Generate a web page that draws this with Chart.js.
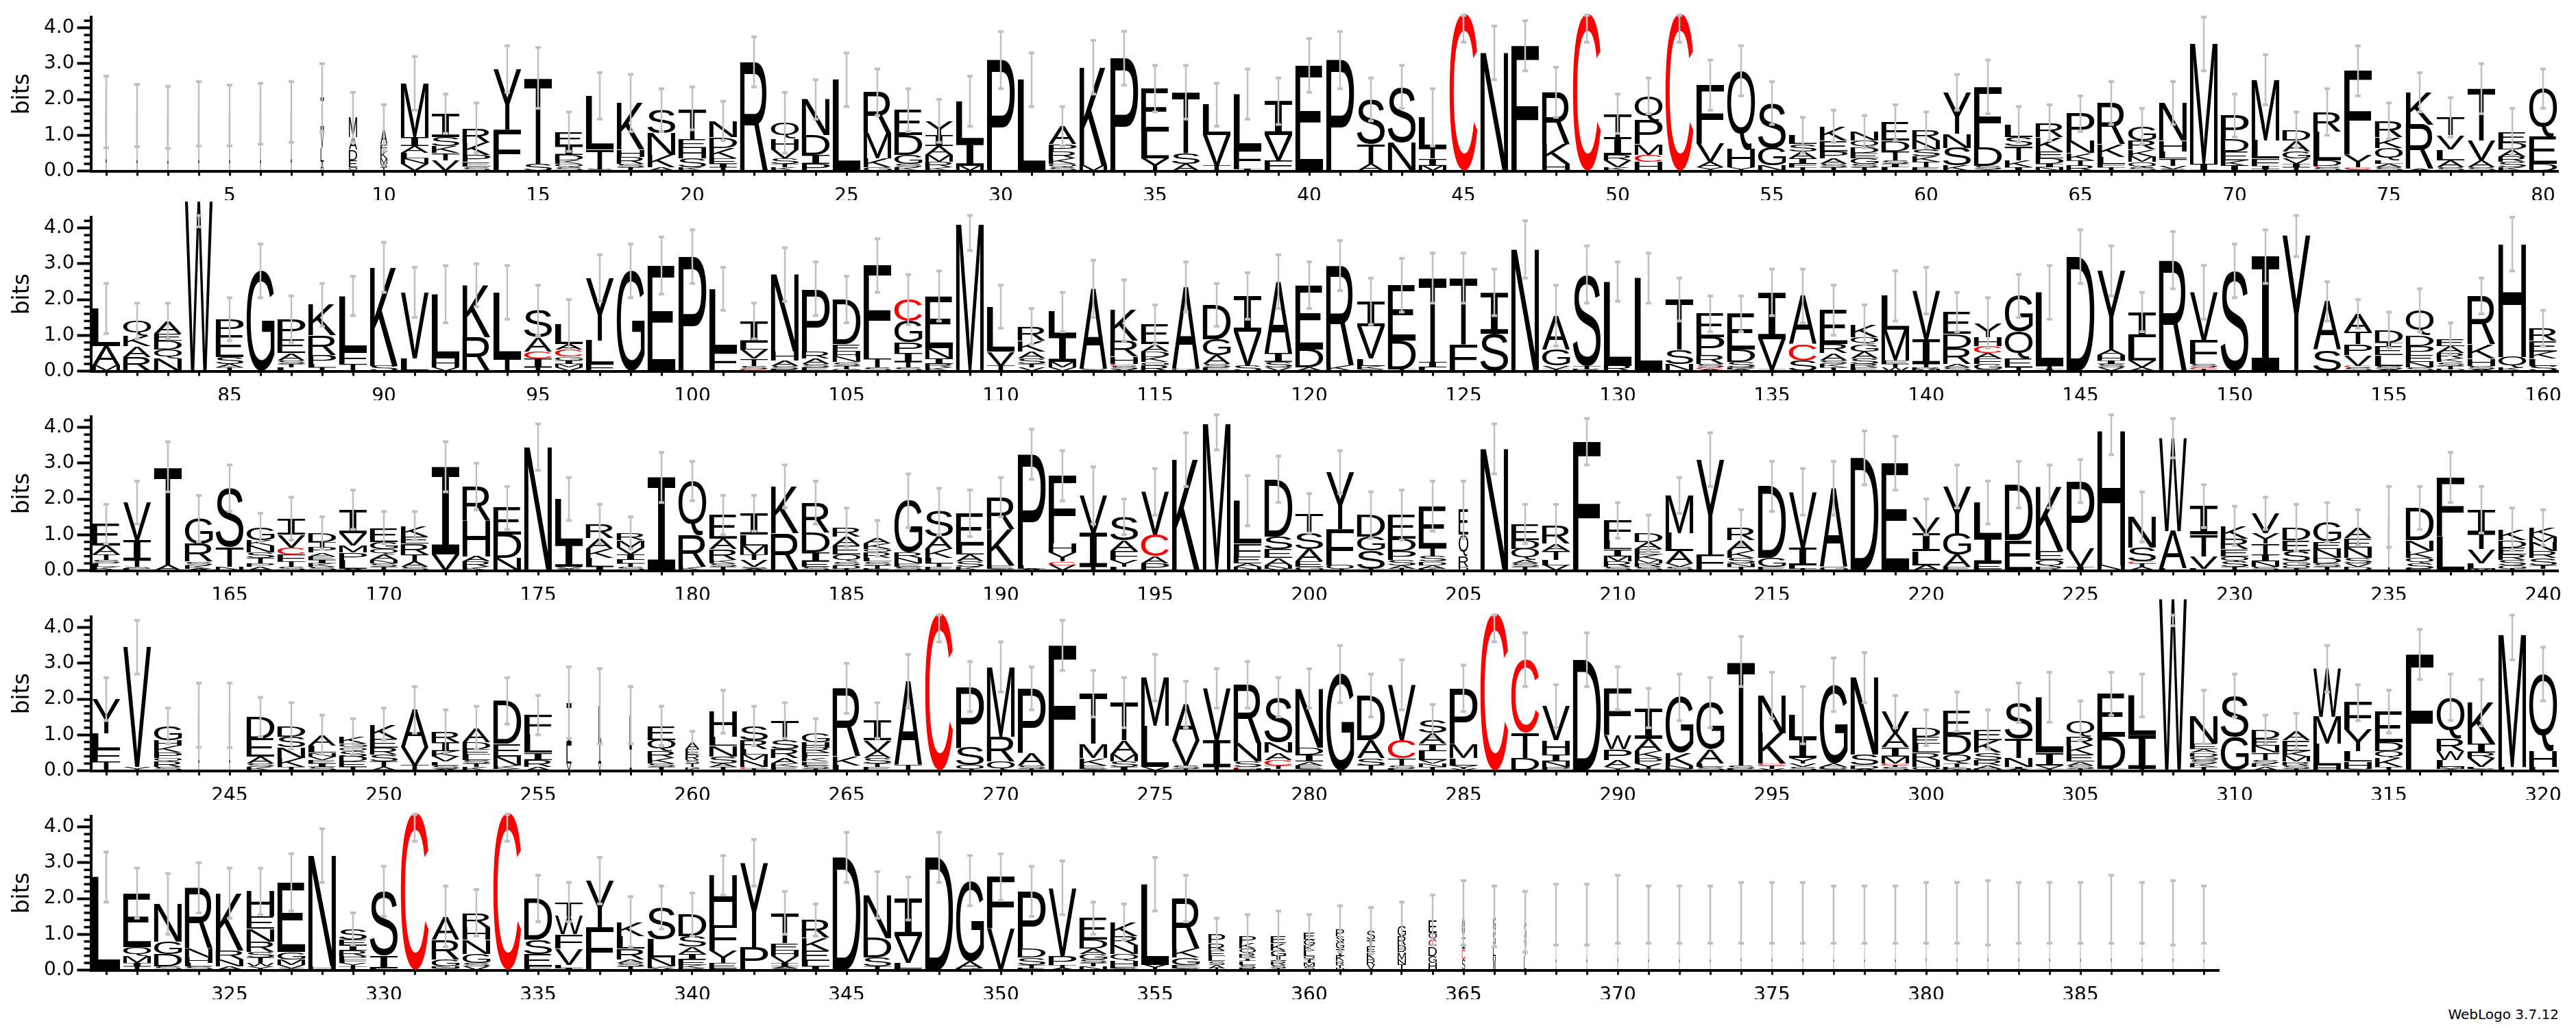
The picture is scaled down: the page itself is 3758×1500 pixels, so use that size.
<!DOCTYPE html>
<html><head><meta charset="utf-8">
<script src="https://cdn.jsdelivr.net/npm/chart.js@4.4.1/dist/chart.umd.min.js"></script>
<style>
html,body{margin:0;padding:0;background:#fff;width:3758px;height:1500px;overflow:hidden;position:relative}
canvas.row{position:absolute;left:0}
#credit{position:absolute;right:25px;top:1470px;font:20px "DejaVu Sans",sans-serif;line-height:20px;color:#000;white-space:nowrap}
</style></head><body>
<canvas id="r0" class="row" width="3758" height="392"></canvas>
<canvas id="r1" class="row" width="3758" height="392"></canvas>
<canvas id="r2" class="row" width="3758" height="392"></canvas>
<canvas id="r3" class="row" width="3758" height="392"></canvas>
<canvas id="r4" class="row" width="3758" height="392"></canvas>
<div id="credit">WebLogo 3.7.12</div>
<script>
// ---- DATA ----
// first position and number of positions per logo row
const rowStarts = [1, 81, 161, 241, 321];
const rowLengths = [80, 80, 80, 80, 69];
const yTickValues = [0, 1, 2, 3, 4];

// letter stacks per position, listed top -> bottom, "<letter><bits>"
const stacks1 = [
"L.85 A.8","L.8 A.75","L.8 A.7","L.85 A.75","L.8 A.75","L.85 A.75","L.85 A.8","I.9 V.5 L.4 A.25","M.55 A.35 D.3 E.2 Q.1","A.45 E.2 K.2 M.15 S.1 T.1",
"M1.5 I.25 A.2 L.15 N.15 V.2","I.65 S.25 K.2 T.2 V.3","R.4 K.35 P.2 E.13 S.12","Y1.7 F1.15","T2.4 S.2","E.4 I.25 D.15 K.1 Q.1 S.1","L1.5 T.55 S.05","K1.3 H.2 R.2 S.1 T.1","S.65 N.6 K.35 A.1","T.85 E.25 H.3 S.25 K.1",
"N.45 D.3 K.3 E.15 I.1 T.1","R3.05","Q.45 H.3 V.25 S.15 T.1 K.1","N1.0 D.55 I.25 P.2","L2.55","R1.15 M.7 K.25 G.1","E.7 D.55 G.25 S.1 K.1","Y.4 I.3 A.25 M.2 R.15 K.1","L1.15 I.65 M.15","P3.1",
"L2.55","A.5 P.2 R.2 K.15 Q.1 S.1","K2.75 M.15","P3.15","E1.2 L.75 Y.35","T1.7 S.3 A.2","L.85 V.85 T.15","L1.55 F.55 I.05","I.95 V.7 F.3","E2.95",
"P3.1","S1.25 T.55 A.2","S1.55 N.8","L.85 T.3 I.2 M.15","C4.4","N3.3","F3.5","R1.45 K.55 H.2","C4.4","T.65 I.5 R.15 V.2 K.1",
"Q.7 P.65 M.3 C.2 H.25","C4.4","F1.65 V.5 A.15 Y.1","Q2.2 H.5 Y.1","S1.25 G.5 N.15","L.25 S.2 A.2 I.15 F.1 T.1","K.4 E.3 P.2 A.15 S.1 T.1","N.25 Q.2 D.15 E.15 G.15 S.1 T.1","E.5 D.3 T.25 S.1 I.1 L.1","R.3 N.25 S.2 K.15 T.15 E.1",
"Y1.15 N.4 S.5 K.15","F1.7 D.5 S.1 Y.05","L.35 S.25 T.4 K.2 I.1","R.4 K.4 E.2 D.15 I.1 N.1","P.75 N.35 K.2 T.15 R.15","R1.15 K.35 L.2 F.1 T.1","G.4 R.25 K.2 M.15 Q.15 S.1","N1.05 H.3 L.2 T.2 V.1 S.05","M3.35 I.2","P.65 D.35 E.25 K.15 I.15",
"M1.7 L.5 F.2 I.1 T.05","D.3 A.3 G.2 V.15 I.1 T.1","R.55 L.8 D.15 C.05 S.1","F2.35 Y.35 C.05 S.05","R.45 K.3 Q.35 L.1 A.1 S.1","K.9 R1.25 A.05","T.5 V.4 L.3 A.2 S.1","T1.45 V.55 A.2 S.1","E.3 D.2 A.2 R.15 S.15 K.1","Q1.35 E.75 D.2"
];
const stacks2 = [
"L1.05 A.55 M.15","Q.4 K.3 A.3 R.4","A.35 E.2 D.25 Q.25 N.35","W4.75","P.45 E.6 S.2 A.1 T.1","G2.8","P.55 E.4 A.2 S.1 T.1 L.1","K.85 R.55 P.25 L.1 T.1","L1.55 F.35 T.2","K2.75 S.15",
"V1.85 L.35","L1.8 H.25 V.1","K1.45 R.95","L1.85 T.35","S.75 A.4 C.2 I.25 T.1","L.55 A.15 C.2 G.1 I.1 M.1 V.1","Y1.75 L.65 F.2","G2.8","E2.95","P3.2",
"L1.75 F.55","I.6 L.2 V.25 T.2 S.1 C.05","N2.15 H.25 A.15 S.1 E.05","P1.75 R.2 A.15 S.1 E.1","D1.25 E.2 H.15 N.15 S.1 T.1 G.05","F2.6 T.25 S.1","C.6 G.6 P.3 I.25 T.15 S.1","E1.45 N.3 I.15 R.1 K.1","M4.1","L1.25 V.4 T.15",
"R.4 K.3 A.2 S.15 T.1 V.1","L.65 I.75 M.15 V.1","A2.25 S.05","K.85 R.45 H.2 C.05 S.1 V.05","E.55 A.2 D.15 K.15 Q.1 R.15","A2.3 G.05","D.95 G.45 A.25 S.1 E.1","I1.0 V.95 S.15","A2.0 I.25 S.15 V.1","E1.8 D.5 A.1",
"R2.8 K.15","I.7 V.9 L.2 K.1 S.05","E1.55 D.8 T.05","T2.35 I.15 L.1","T1.85 F.75","I1.15 S1.05","N3.4","A.95 G.45 V.1 T.05","S2.55 T.1 R.05","L2.35 R.15",
"L2.6","T1.4 S.4 N.2","E.65 P.5 R.25 S.1 C.05 A.05","E1.0 D.35 S.15 P.05 A.05","I1.3 V.85 T.05","A1.35 C.45 S.3","E.95 R.25 A.2 S.1 K.1 T.1","K.35 Q.2 G.2 A.2 S.15 R.1 E.1","L.95 M.85 E.1 T.1 W.1","V1.35 I.7 T.1 R.05 M.05",
"E.6 D.4 R.45 A.1 S.1","Y.4 H.25 C.2 A.15 F.15 G.15 S.05","G1.0 Q.75 E.25 T.1","L2.05 T.1 I.05","D3.2","Y2.2 A.15 H.15 I.1 S.1 V.1","I.7 L.65 V.2 A.1","R3.1","V1.35 F.65 S.1 C.05 T.05","S2.8",
"I3.2","Y3.8","A1.35 S.6","A.5 T.35 P.3 V.3 C.05 S.1","D.35 T.1 E.25 L.3 S.1 A.05","Q.7 D.3 P.25 E.2 N.15 S.1","E.2 A.2 R.15 K.1 S.1 T.1 D.05","R1.35 K.4 H.2 S.1 A.05","H3.15 Q.3 K.1","R.35 E.3 K.2 L.2 S.15"
];
const stacks3 = [
"E.6 A.25 T.15 S.1 L.1 K.1","V1.05 I.55 T.2 S.05 L.05","T2.75 A.15","G.7 R.5 S.1 K.1 A.05","S1.65 T.55 N.1","G.35 K.15 N.2 S.15 T.15 P.1 A.1","I.45 V.35 C.2 F.2 T.15 S.1","D.25 T.15 P.15 A.1 E.1 I.1 K.1 S.1","I.65 V.35 M.2 P.2 L.25 A.05","E.4 G.2 Q.15 A.15 N.1 S.1 T.1",
"K.3 E.2 R.3 T.2 A.15 S.1","I2.45 V.45","R.95 H1.0 A.15 R.15 K.1","E.75 D.65 N.35","N3.45","L1.25 I.65 V.05 S.05","R.4 A.3 K.25 L.25 I.1","R.2 M.2 V.2 I.15 L.1 T.1 S.1","I2.6","Q1.5 R.9 K.1",
"E.65 A.3 R.3 K.1 S.1 T.1","I.6 L.3 M.25 T.15 V.2 S.05 A.05","K1.3 R1.05","R.85 D.55 I.25 E.15 S.1","R.25 A.25 E.25 Q.2 S.1 D.1 T.05","A.15 K.15 Q.1 R.15 L.1 S.1 T.1 E.05","G1.45 R.15 N.15 E.1 S.1","S.7 A.35 K.25 L.15 T.1 E.1","E.9 L.25 A.2 S.15 K.1","R.9 K1.0 E.1 S.05",
"P3.1 L.1 A.05","F1.9 H.25 Y.25 C.1 V.15","V1.05 I.95 T.1","S.65 A.3 F.25 Y.2 L.1","V1.2 C.6 A.2 P.2","K3.1","M4.1","L1.2 F.35 E.2 A.1 N.1","D1.6 S.35 E.25 A.2 N.1 V.05","T.55 S.45 A.35 E.15 G.1",
"Y1.6 F1.0 Q.15","D.6 G.4 S.5 T.05","E.65 D.35 P.25 S.15 A.1 T.05","E1.15 T.25 S.15 D.1 A.1 K.05","E.7 Q.6 R.3 D.1","N3.4","E.45 D.25 Q.3 A.1 S.1 T.1","R.5 A.2 T.25 L.15 V.15","F3.6","F.55 L.25 I.2 M.15 R.15 S.1",
"D.25 A.2 E.15 K.15 M.1 R.1 S.1","M1.05 L.5 A.35 V.1 S.1","Y2.65 F.45","R.35 A.3 K.2 S.15 N.1 T.1","D2.0 G.25 E.1","V1.55 I.5 L.1 T.05","A2.2 G.1","D3.15","E3.0","V.45 I.5 L.4 A.15",
"Y1.3 G.6 A.35 E.1","L.95 I.75 E.15 F.05","D1.55 E.85","K1.8 E.25 Q.2 R.1","P1.9 V.5 I.1","H3.75 N.15","N.85 S.4 C.05 T.1 A.1","W2.6 A1.05 L.05","I.8 T.6 V.35 L.05","K.35 R.3 E.2 Q.15 S.15 T.1",
"V.55 Y.3 T.3 I.2 N.15 S.1","D.35 E.3 S.3 G.1 Q.1 T.05","G.55 E.2 N.25 D.15 S.1 T.1","A.3 E.25 N.3 S.15 V.1 D.1","L.8 I.7","D.9 N.3 K.2 Q.15 S.15 E.05","F1.65 L.95","I.65 T.45 V.4 L.15 M.05","K.3 D.2 E.2 R.15 S.15 G.1 T.05","K.25 M.15 N.25 R.2 S.2 T.1 Q.05"
];
const stacks4 = [
"Y.95 L.45 F.35 T.25","V3.35 Y.1","G.4 H.15 K.2 P.15 Q.1 R.15 S.1","L.8 A.75","L.8 A.75","D.6 E.5 A.2 S.1 K.1","D.3 S.3 N.3 K.25 T.1","A.3 L.2 N.1 V.1 E.1 I.1 S.1","K.2 G.1 Q.1 S.15 D.15 E.15 T.1","K.4 E.25 R.2 S.2 T.15 A.1",
"A1.05 V.5 T.15","R.3 I.25 K.15 V.15 L.1 S.1 A.05","A.4 D.2 E.15 L.15 S.1 T.1 K.1","D1.2 E.35 N.25 K.1 Y.05","F.55 L.5 I.2 R.2 A.1","I1.2 L.5 V.2","L1.0 I.6 V.2","L.9 I.65","E.4 Q.3 R.2 K.15 S.1 T.1","A.2 E.15 R.15 S.1 T.1 G.05 K.05",
"H.7 L.25 N.3 S.2 A.1 T.1","S.4 R.25 L.15 M.15 N.2 C.05 T.05","T.55 S.25 R.25 A.15 K.1 E.1","G.25 H.15 R.15 F.15 K.1 E.1 S.1 T.05","R1.9 K.25 L.15","I.55 V.3 A.2 S.15 T.1 E.1","A2.35 T.15","C4.4","P1.7 S.5 Q.15","M1.95 R.7 Q.25",
"P1.8 A.35 S.1 T.05","F3.5","T1.4 M.4 K.2 E.1 S.05","T1.05 A.4 M.2 S.15 I.1","M1.35 L1.15 V.1","A1.0 V.7 S.1 T.05","V1.45 I.75 T.1","R1.65 N.5 S.15 C.05 H.05","S1.25 N.3 A.2 C.15 T.1 L.05","N1.65 D.2 I.2 A.1 E.1 S.05",
"G2.7","D1.25 A.5 S.2 T.15","V1.55 C.5 T.2 S.1 L.05","S.35 A.3 I.2 L.25 V.1 N.1 T.1","P1.55 M.4 L.2 Y.1 V.05","C4.4","C2.05 T.7 D.35","V.95 H.4 I.2 N.15 P.1","D3.1","F1.3 W.4 P.3 A.2 Y.1",
"I.85 A.35 K.2 P.15 Y.15 E.05","G1.55 K.35 N.1 E.05","G1.3 A.4 L.1 S.1","T2.9 S.1 L.05","N1.05 K.85 C.05 T.1 V.05","L.65 I.55 Y.15 V.1 S.1","G2.2 A.1 D.05 S.05","N2.15 S.3 D.1 A.05","V.6 A.4 I.25 M.2 C.05 T.05 S.1","D.25 E.2 L.25 R.2 N.2 Q.1",
"E.65 D.55 Q.25 T.1 K.05 N.05","E.3 K.35 S.2 R.15 A.1 D.05","S1.0 T.55 N.25 I.05 A.05","L1.55 I.35 V.1 T.05","Q.45 R.25 K.25 E.2 A.1 S.1 T.05","E1.2 D.9 T.05","L1.1 I.95 T.05","W4.8","N.75 E.15 A.1 D.1 G.1 S.1 K.1 T.1","S1.15 G.95",
"D.25 E.2 N.2 T.2 S.1 K.1 A.1","A.25 E.3 K.15 M.15 R.1 S.1 T.05","W1.35 M.75 L.6 H.15","F.75 Y.6 L.3 H.2 S.05","E.85 D.25 Q.2 K.25 T.1","F3.25","Q1.15 R.35 W.25 L.2 M.05 Y.05","K1.15 I.25 R.15 V.25 L.05 S.05","M3.7 L.1","Q2.15 H.45 L.1"
];
const stacks5 = [
"L2.6","E1.5 Q.25 M.2 I.1 T.1","N1.05 G.35 D.35 S.1","R1.7 N.25 H.15 L.1 S.1","K1.6 R.25 N.2 A.1","H.7 E.35 N.35 R.3 S.15 T.15 W.1 Y.1","E1.95 G.2 M.15 V.1 Y.05","N3.1 H.1","S.3 E.15 I.15 R.15 P.1 F.1 Y.1 T.1","S1.8 I.35 L.05",
"C4.4","A.65 R.55 G.2 N.05 S.05","R.4 H.35 N.4 G.25 S.1 V.1","C4.4","D1.15 S.4 E.35 F.1","T.4 W.5 F.4 V.45 L.1 I.05","Y1.3 F1.2","K.4 L.35 R.3 A.1 S.1 T.1","S.9 L.5 N.25 K.05 V.05","D.6 S.3 A.2 I.15 E.15 K.1 R.05",
"H1.4 F.7 Y.35 E.15 F.05","Y2.35 P.65","T.85 E.2 H.15 V.2 I.1 A.05 S.05","R.5 K.35 E.3 L.15 I.1","D3.15","N1.2 D.55 S.25 T.1","I1.05 V.75 L.15 F.05","D3.15","G2.25 A.2 R.05","F1.45 V1.15",
"P1.6 D.25 S.2 T.1 E.05","V1.9 P.25 T.1 A.05","E.6 D.25 A.15 G.15 S.1 T.1 N.1","K.4 R.25 N.25 Q.2 H.15 E.05 S.05","L2.25 Y.15","R1.4 K.25 G.2 E.1 S.05","P.25 R.2 E.15 L.15 S.1 A.1 T.05","P.2 K.15 Q.15 R.1 I.1 L.1 S.1 E.05","E.2 K.2 G.15 I.15 R.1 S.1 T.05","E.2 G.15 K.15 L.15 Q.1 I.1 M.1 S.1",
"P.2 S.15 G.2 I.2 K.15 R.1 T.1 D.05","S.25 I.2 E.15 K.2 R.15 V.15","G.3 R.25 D.2 M.2 N.15 T.15","E.35 Q.2 C.2 D.25 G.2 H.2","A.4 V.3 I.3 C.3 S.3","G.4 S.4 L.3 M.4","S.5 V.45 L.4","L.8 A.75","L.8 A.75","L.9 A.8",
"L.8 A.75","L.8 A.75","L.8 A.75","L.8 A.8","L.8 A.8","L.8 A.8","L.8 A.75","L.8 A.75","L.8 A.75","L.8 A.8",
"L.8 A.8","L.8 A.8","L.8 A.8","L.8 A.8","L.8 A.8","L.9 A.8","L.8 A.8","L.8 A.8","L.8 A.75"
];

// fraction of non-gap sequences per position (letter column width)
const occ1 = [.05,.05,.05,.05,.05,.05,.05,.12,.3,.25, 1,1,1,1,1,1,1,1,1,1, 1,1,1,1,1,1,1,1,1,1, 1,1,1,1,1,1,1,1,1,1, 1,1,1,1,1,1,1,1,1,1, 1,1,1,1,1,1,1,1,1,1, 1,1,1,1,1,1,1,1,1,1, 1,1,1,1,1,1,1,1,1,1];
const occ2 = [1,1,1,1,1,1,1,1,1,1, 1,1,1,1,1,1,1,1,1,1, 1,1,1,1,1,1,1,1,1,1, 1,1,1,1,1,1,1,1,1,1, 1,1,1,1,1,1,1,1,1,1, 1,1,1,1,1,1,1,1,1,1, 1,1,1,1,1,1,1,1,1,1, 1,1,1,1,1,1,1,1,1,1];
const occ3 = [1,1,1,1,1,1,1,1,1,1, 1,1,1,1,1,1,1,1,1,1, 1,1,1,1,1,1,1,1,1,1, 1,1,1,1,1,1,1,1,1,1, 1,1,1,1,.35,1,1,1,1,1, 1,1,1,1,1,1,1,1,1,1, 1,1,1,1,1,1,1,1,1,1, 1,1,1,1,.05,1,1,1,1,1];
const occ4 = [1,1,1,.05,.05,1,1,1,1,1, 1,1,1,1,1,.18,.1,.08,1,.5, 1,1,1,1,1,1,1,1,1,1, 1,1,1,1,1,1,1,1,1,1, 1,1,1,1,1,1,1,1,1,1, 1,1,1,1,1,1,1,1,1,1, 1,1,1,1,1,1,1,1,1,1, 1,1,1,1,1,1,1,1,1,1];
const occ5 = [1,1,1,1,1,1,1,1,1,1, 1,1,1,1,1,1,1,1,1,1, 1,1,1,1,1,1,1,1,1,1, 1,1,1,1,1,1,.6,.6,.55,.4, .3,.3,.3,.3,.12,.1,.08,.03,.03,.03, .03,.03,.03,.03,.03,.03,.03,.03,.03,.03, .03,.03,.03,.03,.03,.03,.03,.03,.03];

// error bar half-heights (bits)
const err1 = [1.0,.87,.87,.9,.85,.85,.85,.95,.7,.65, .75,.55,.7,.65,.85,.55,.65,.8,.6,.6, .55,.7,.85,.55,.75,.65,.6,.6,.7,.8, .75,.55,.75,.75,.65,.75,.6,.7,.65,.75, .8,.6,.6,.8,.8,.75,.7,.7,.8,.55, .5,.8,.7,.7,.6,.5,.45,.45,.5,.5, .5,.75,.5,.5,.5,.6,.5,.6,.75,.6, .7,.5,.65,.7,.5,.55,.55,.7,.65,.55];
const err2 = [.7,.5,.5,.72,.6,.75,.65,.6,.55,.7, .7,.8,.6,.75,.7,.7,.65,.75,.8,.75, .6,.5,.75,.75,.65,.75,.7,.7,.73,.6, .5,.55,.8,.85,.55,.7,.6,.65,.75,.65, .7,.65,.75,.7,.7,.65,.8,.85,.8,.55, .7,.6,.5,.5,.65,.75,.7,.55,.7,.65, .55,.7,.6,.75,.75,.7,.55,.8,.75,.75, .75,.6,.55,.4,.5,.6,.45,.5,.75,.5];
const err3 = [.55,.6,.7,.65,.65,.4,.6,.45,.55,.45, .4,.7,.65,.6,.65,.6,.55,.45,.7,.55, .55,.5,.6,.6,.55,.5,.75,.65,.65,.55, .7,.7,.8,.5,.65,.75,.73,.7,.65,.55, .6,.65,.7,.7,.8,.7,.55,.6,.65,.5, .5,.5,.75,.5,.7,.65,.75,.75,.75,.5, .6,.6,.65,.6,.6,.66,.7,.55,.6,.55, .45,.65,.55,.5,.85,.6,.7,.65,.6,.5];
const err4 = [.6,.75,.5,.9,.9,.55,.65,.55,.5,.45, .65,.6,.6,.65,.55,1.0,1.05,.8,.55,.3, .6,.55,.5,.4,.7,.5,.75,.8,.7,.7, .6,.7,.65,.7,.65,.65,.55,.65,.55,.55, .8,.6,.7,.45,.65,.8,.75,.6,.75,.6, .55,.65,.7,.7,.65,.8,.75,.7,.45,.5, .55,.55,.55,.7,.55,.6,.6,.75,.75,.6, .4,.5,.65,.5,.6,.7,.65,.65,.7,.75];
const err5 = [.7,.7,.85,.7,.7,.65,.8,.75,.45,.7, .8,.85,.65,.8,.65,.55,.65,.7,.6,.6, .55,.65,.6,.45,.7,.65,.6,.7,.7,.65, .7,.75,.45,.5,.75,.65,.45,.6,.7,.5, .65,.65,.65,.7,.9,.85,.85,.85,.85,.95, .8,.8,.8,.85,.85,.85,.8,.8,.8,.85, .85,.9,.85,.85,.85,.95,.85,.9,.8];

const allStacks = [stacks1, stacks2, stacks3, stacks4, stacks5];
const allOcc = [occ1, occ2, occ3, occ4, occ5];
const allErr = [err1, err2, err3, err4, err5];

// ---- RENDERING ----
const Y_MAX = 4.3, ERR_CLIP = 4.35;
const rowInfo = {};
const glyphCache = {};
function glyph(ctx, ch){
  if (glyphCache[ch]) return glyphCache[ch];
  const font = ch === 'I' ? '200px "DejaVu Sans Mono"' : '200px "Liberation Sans"';
  ctx.save(); ctx.font = font;
  const m = ctx.measureText(ch);
  ctx.restore();
  const g = {font, l: m.actualBoundingBoxLeft, r: m.actualBoundingBoxRight, a: m.actualBoundingBoxAscent, d: m.actualBoundingBoxDescent};
  glyphCache[ch] = g; return g;
}
function drawGlyph(ctx, ch, x0, y0, w, h, color){
  const g = glyph(ctx, ch);
  const gw = g.l + g.r, gh = g.a + g.d;
  if (gw <= 0 || gh <= 0) return;
  ctx.save();
  ctx.translate(x0, y0);
  ctx.scale(w / gw, h / gh);
  ctx.font = g.font; ctx.fillStyle = color;
  ctx.textAlign = 'left'; ctx.textBaseline = 'alphabetic';
  ctx.fillText(ch, g.l, g.a);
  ctx.restore();
}

const logoPlugin = {
  id: 'logoLetters',
  afterDatasetsDraw(chart){
    const info = rowInfo[chart.canvas.id];
    const ctx = chart.ctx;
    const ys = chart.scales.y;
    chart.data.datasets.forEach((ds, k) => {
      const meta = chart.getDatasetMeta(k);
      meta.data.forEach((el, i) => {
        const ch = ds.letters[i];
        if (!ch) return;
        const p = el.getProps(['x', 'y', 'base', 'width'], true);
        const top = Math.min(p.y, p.base), bot = Math.max(p.y, p.base);
        const h = bot - top;
        if (h < 0.4) return;
        const w = p.width * info.occ[i];
        drawGlyph(ctx, ch, p.x - w / 2, top, w, h, ch === 'C' ? '#ff0000' : '#000000');
      });
    });
    // error bars
    const meta0 = chart.getDatasetMeta(0);
    ctx.save();
    ctx.strokeStyle = '#c0c0c0'; ctx.fillStyle = '#c0c0c0'; ctx.lineWidth = 2.5;
    info.totals.forEach((t, i) => {
      const e = info.err[i];
      const x = meta0.data[i].getProps(['x'], true).x;
      const hi = Math.min(t + e, ERR_CLIP), lo = Math.max(t - e, 0);
      const yh = ys.getPixelForValue(hi), yl = ys.getPixelForValue(lo);
      ctx.beginPath(); ctx.moveTo(x, yh); ctx.lineTo(x, yl); ctx.stroke();
      ctx.fillRect(x - 4, yh - 2, 8, 4);
      ctx.fillRect(x - 4, yl - 2, 8, 4);
    });
    ctx.restore();
  },
  afterDraw(chart){
    // minor ticks on the bits axis
    const ys = chart.scales.y, ctx = chart.ctx, left = chart.chartArea.left;
    ctx.save(); ctx.strokeStyle = '#000'; ctx.lineWidth = 3.5;
    for (let j = 1; j <= 21; j++) {
      if (j % 5 === 0) continue;
      const py = ys.getPixelForValue(j / 5);
      ctx.beginPath(); ctx.moveTo(left - 10, py); ctx.lineTo(left, py); ctx.stroke();
    }
    ctx.restore();
  }
};

const BASE0 = 249.5, ROW_STEP = 291.6, EXTRA = 100, AREA_TOP = 25;
for (let r = 0; r < 5; r++) {
  const canvas = document.getElementById('r' + r);
  const baseline = BASE0 + r * ROW_STEP;
  canvas.style.top = (baseline - EXTRA - BASE0) + 'px';
  const labels = Array.from({length: rowLengths[r]}, (_, i) => String(rowStarts[r] + i));
  const parsed = allStacks[r].map(s => s.trim().split(/\s+/).map(t => ({ch: t[0], v: parseFloat(t.slice(1))})).reverse());
  const L = Math.max(...parsed.map(p => p.length));
  const datasets = [];
  for (let k = 0; k < L; k++) {
    datasets.push({
      data: parsed.map(p => p[k] ? p[k].v : 0),
      letters: parsed.map(p => p[k] ? p[k].ch : ''),
      backgroundColor: 'rgba(0,0,0,0)', borderWidth: 0, stack: 's',
      barPercentage: 0.9, categoryPercentage: 1.0
    });
  }
  rowInfo['r' + r] = {occ: allOcc[r], err: allErr[r], totals: parsed.map(p => p.reduce((a, b) => a + b.v, 0))};
  const areaRight = 132.5 + rowLengths[r] * 45;
  new Chart(canvas, {
    type: 'bar',
    data: {labels, datasets},
    plugins: [logoPlugin],
    options: {
      responsive: false, animation: false, events: [],
      layout: {padding: {top: EXTRA + AREA_TOP, right: 3758 - areaRight, left: 0, bottom: 0}},
      plugins: {legend: {display: false}, tooltip: {enabled: false}, title: {display: false}},
      scales: {
        x: {
          type: 'category', stacked: true, offset: true,
          grid: {display: true, drawOnChartArea: false, drawTicks: true, tickLength: 7, tickWidth: 3, tickColor: '#000', offset: false},
          border: {display: true, width: 4, color: '#000'},
          ticks: {autoSkip: false, maxRotation: 0, minRotation: 0, padding: 13, color: '#000',
            font: {family: 'DejaVu Sans', size: 28},
            callback(v){ const n = parseInt(this.getLabelForValue(v), 10); return n % 5 === 0 ? String(n) : ''; }},
          afterFit(s){ s.height = 392 - EXTRA - AREA_TOP - (BASE0 - AREA_TOP); }
        },
        y: {
          stacked: true, min: 0, max: Y_MAX,
          afterBuildTicks(s){ s.ticks = yTickValues.map(v => ({value: v})); },
          grid: {display: true, drawOnChartArea: false, drawTicks: true, tickLength: 20, tickWidth: 4, tickColor: '#000'},
          border: {display: true, width: 4, color: '#000'},
          ticks: {padding: 4, color: '#000', font: {family: 'DejaVu Sans', size: 28}, callback: v => Number(v).toFixed(1)},
          title: {display: true, text: 'bits', color: '#000', font: {family: 'DejaVu Sans', size: 33}, padding: {top: 14, bottom: 0}},
          afterFit(s){ s.width = 132.5; }
        }
      }
    }
  });
}
</script>
</body></html>
